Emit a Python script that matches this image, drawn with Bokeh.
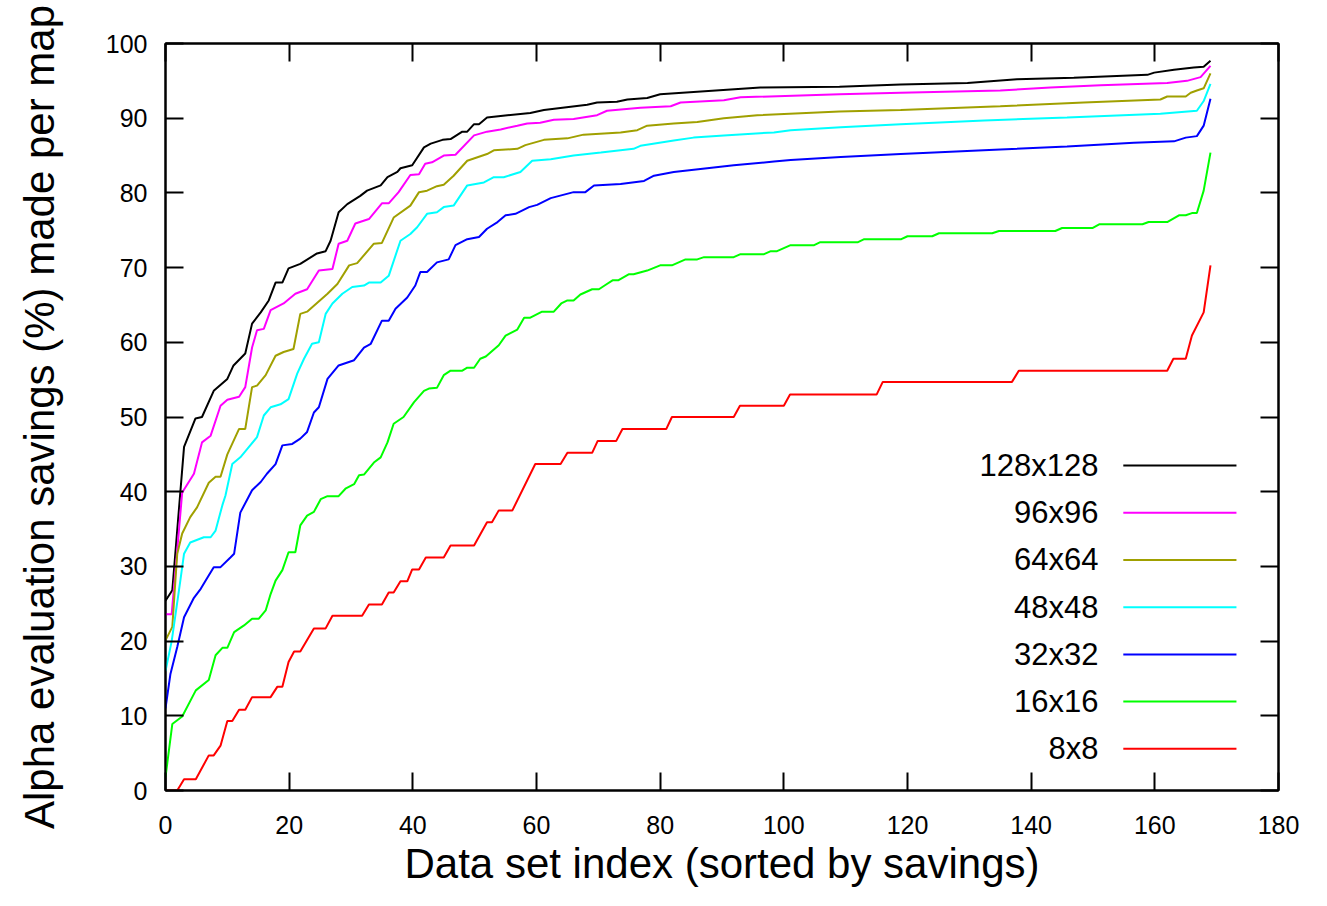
from bokeh.plotting import figure
from bokeh.models import Range1d, LinearAxis, FixedTicker
from bokeh.core.properties import value
from bokeh.embed import file_html
from bokeh.resources import INLINE

# ---------------- data ----------------
series_names = ["128x128", "96x96", "64x64", "48x48", "32x32", "16x16", "8x8"]
series_colors = ["#000000", "#ff00ff", "#a0a000", "#00ffff", "#0000ff", "#00ff00", "#ff0000"]

x_128 = [0, 1.1, 3.0, 4.85, 5.9, 7.8, 10, 11, 12.9, 14, 15.4, 16.7, 17.8, 18.9, 19.9, 21.8, 24.5, 25.9, 26.7, 28,
         29.4, 31.5, 32.6, 34.8, 35.9, 37.5, 38, 39.9, 41.8, 42.9, 44.8, 46.1, 48, 48.8, 49.9, 50.7, 52, 55.3, 59, 61.2,
         68.2, 69.8, 73, 74.7, 77.9, 80, 85.4, 90.8, 96.2, 109, 118.9, 129.7, 137.7, 146.9, 158.8, 159.9, 163.1, 166.3, 167.9, 169]
y_128 = [25.4, 26.8, 46, 49.8, 50, 53.5, 55.1, 56.9, 58.5, 62.5, 64, 65.6, 68, 68, 69.9, 70.5, 71.9, 72.2, 73.6, 77.4,
         78.5, 79.6, 80.3, 81, 82.1, 82.8, 83.3, 83.7, 86.1, 86.6, 87.1, 87.2, 88.2, 88.2, 89.2, 89.2, 90.1, 90.4, 90.7, 91.1,
         91.8, 92.1, 92.2, 92.5, 92.7, 93.2, 93.5, 93.8, 94.1, 94.2, 94.5, 94.7, 95.2, 95.4, 95.8, 96.1, 96.5, 96.8, 96.9, 97.7]

x_96 = [0, 1.0, 2.7, 4.6, 5.9, 7.3, 8.9, 10, 11.9, 12.9, 14, 14.8, 15.9, 17, 19.1, 21, 22.9, 24.8, 27, 28,
        29.4, 30.7, 32.9, 35, 36.1, 37.7, 39.6, 41, 42, 43.1, 45, 46.9, 49.9, 52, 54.2, 56.9, 58.5, 60.6, 62.8, 66,
        69.8, 71.4, 76.8, 81.7, 83.3, 90.3, 93, 109, 118.9, 135, 143.1, 151.2, 162, 165.2, 167.4, 169]
y_96 = [23.6, 23.6, 39.9, 42.4, 46.6, 47.5, 51.5, 52.3, 52.7, 54, 59.3, 61.6, 61.8, 64.3, 65.2, 66.5, 67.1, 69.6, 69.8, 73.2,
        73.6, 75.9, 76.5, 78.6, 78.6, 80.1, 82.4, 82.5, 83.9, 84.1, 85, 85.1, 87.7, 88.2, 88.5, 89, 89.3, 89.4, 89.8, 89.9,
        90.4, 91, 91.4, 91.6, 92.1, 92.4, 92.8, 93.2, 93.4, 93.7, 94.1, 94.4, 94.7, 95, 95.5, 97]

x_64 = [0, 1.1, 1.6, 1.9, 2.7, 4, 5.1, 7, 8.1, 8.9, 10, 11.9, 12.9, 14, 14.8, 16.2, 17.8, 19.1, 20.7, 21.8,
        22.9, 26.2, 27.8, 29.7, 31, 33.7, 35, 36.9, 39.6, 41, 42.3, 43.9, 45, 46.6, 48.8, 52, 53.1, 56.9, 58.2, 61.2,
        65, 67.6, 73.6, 76.3, 77.9, 82.2, 86, 90.3, 95.7, 109, 118.9, 135, 148.5, 160.9, 162, 165, 165.8, 166.8, 167.9, 169]
y_64 = [20.1, 21.9, 28.1, 31.7, 34.4, 36.6, 37.9, 41.2, 42, 42, 45, 48.4, 48.4, 54, 54.2, 55.6, 58.2, 58.7, 59.1, 63.8,
        64.1, 66.5, 67.8, 70.3, 70.6, 73.2, 73.3, 76.7, 78.3, 80.1, 80.3, 80.9, 81.1, 82.3, 84.3, 85.2, 85.7, 85.9, 86.4, 87.1,
        87.3, 87.8, 88.1, 88.4, 89, 89.3, 89.5, 90, 90.4, 90.9, 91.1, 91.6, 92.1, 92.5, 92.9, 92.9, 93.4, 93.7, 94, 96]

x_48 = [0, 1.0, 2.4, 3, 4, 6.2, 7.3, 8.1, 9.2, 9.7, 10.8, 12.1, 13.2, 14.8, 15.9, 17, 18.6, 19.9, 21.3, 22.4,
        23.7, 24.8, 25.9, 27, 28.6, 30.2, 32.1, 32.9, 34.8, 36.1, 38, 39.6, 40.7, 42.3, 43.9, 45, 46.6, 48.8, 51.5, 53.1,
        54.7, 57.4, 59.3, 62.3, 66, 70.4, 75.7, 76.8, 82.2, 85.4, 90.3, 98.4, 101.1, 109.2, 118.9, 132.4, 145.8, 160.9, 166.8, 167.9, 169]
y_48 = [16, 20, 28.1, 31.7, 33.2, 33.9, 33.9, 34.8, 38.2, 39.5, 43.7, 44.6, 45.7, 47.3, 50.2, 51.3, 51.7, 52.4, 55.8, 57.8,
        59.8, 60, 63.8, 65.2, 66.5, 67.4, 67.6, 68, 68, 68.9, 73.6, 74.5, 75.4, 77.2, 77.4, 78.1, 78.3, 81, 81.4, 82.1,
        82.1, 82.8, 84.3, 84.5, 85, 85.4, 85.9, 86.3, 87, 87.4, 87.7, 88.1, 88.4, 88.8, 89.2, 89.7, 90.1, 90.6, 91, 92.3, 94.6]

x_32 = [0, 0.8, 1.9, 3, 4.6, 5.7, 6.5, 7.8, 8.9, 10.5, 11.1, 12.1, 14, 15.4, 16.4, 17.8, 18.9, 20.5, 21.8, 22.9,
        24, 24.8, 26.2, 28, 30.5, 32.1, 33.2, 35, 36.1, 37.2, 39.1, 40.4, 41.2, 42.3, 43.9, 45.8, 46.9, 48.8, 50.7, 52,
        53.7, 55, 56.6, 58.8, 60.1, 62.3, 66, 67.9, 69.3, 73.6, 77.4, 79, 82.2, 87.6, 91.9, 98.4, 101.1, 109.2, 118.9, 124.3,
        135, 145.8, 156.6, 163.1, 165, 166.8, 167.9, 169]
y_32 = [11, 15.6, 19.2, 23.2, 25.8, 27, 28.1, 29.9, 29.9, 31.2, 31.7, 37.2, 40.2, 41.3, 42.4, 43.7, 46.2, 46.4, 47.1, 48,
        50.6, 51.3, 55.1, 56.9, 57.6, 59.3, 59.8, 62.9, 62.9, 64.5, 66, 67.6, 69.4, 69.4, 70.7, 71.1, 73, 73.8, 74.1, 75.2,
        76.1, 77, 77.2, 78.1, 78.4, 79.3, 80.1, 80.1, 81, 81.2, 81.6, 82.3, 82.8, 83.3, 83.7, 84.2, 84.4, 84.8, 85.2, 85.4,
        85.8, 86.2, 86.7, 86.9, 87.4, 87.6, 89, 92.6]

x_16 = [0, 1.1, 2.7, 4.9, 7, 8.1, 9.2, 10, 11.1, 12.7, 14, 15.1, 16.2, 17, 17.8, 18.9, 19.9, 21, 21.8, 22.9,
        24, 25.1, 26.2, 28, 29.1, 30.5, 31.3, 32.1, 33.7, 34.8, 35.9, 36.9, 38.5, 40.2, 41.8, 42.6, 43.9, 45, 46.1, 48,
        48.8, 49.9, 50.9, 51.8, 53.9, 55, 56.9, 58, 59, 60.9, 62.8, 64, 65, 66, 67.1, 69, 70.1, 71.2, 72.3, 73.2,
        74.9, 75.7, 77.9, 80, 81.9, 84.1, 86, 87.1, 91.9, 93, 96.8, 97.9, 98.9, 101.1, 104.9, 105.9, 112, 113, 119, 120,
        124, 125.1, 133.7, 134.8, 143.9, 145, 149.9, 151, 158, 159, 162, 163.9, 165, 166, 166.8, 167.9, 169]
y_16 = [1.8, 8.9, 9.9, 13.4, 14.8, 18.1, 19.1, 19.1, 21.2, 22.1, 23, 23, 24.1, 26.3, 28.1, 29.5, 31.9, 31.9, 35.5, 36.8,
        37.3, 39, 39.4, 39.4, 40.4, 41, 42.2, 42.3, 43.9, 44.6, 46.6, 49.1, 50, 52, 53.5, 53.8, 53.9, 55.6, 56.2, 56.2,
        56.6, 56.6, 57.8, 58.1, 59.6, 60.9, 61.7, 63.3, 63.3, 64.1, 64.1, 65.2, 65.6, 65.6, 66.4, 67.1, 67.1, 67.7, 68.3, 68.3,
        69.1, 69.1, 69.6, 70.3, 70.3, 71.1, 71.1, 71.4, 71.4, 71.8, 71.8, 72.2, 72.2, 73, 73, 73.4, 73.4, 73.8, 73.8, 74.2,
        74.2, 74.6, 74.6, 74.9, 74.9, 75.3, 75.3, 75.8, 75.8, 76.1, 76.1, 77, 77, 77.3, 77.3, 80.3, 85.4]

x_8 = [0, 1.9, 3, 4.9, 7, 7.8, 8.9, 10, 10.8, 11.9, 12.9, 14, 17, 18.1, 18.9, 19.9, 20.8, 21.8, 24, 25.9,
       27, 31.8, 32.9, 35, 36.1, 36.9, 38, 39.1, 39.9, 41, 42.1, 45, 46.1, 49.9, 52, 52.8, 53.9, 56.1, 59.8, 63.9,
       65, 69, 69.9, 72.9, 73.9, 81, 81.9, 91.9, 92.9, 100, 101, 115, 116, 136.9, 138, 162, 163, 165, 166, 167.9, 169]
y_8 = [0, 0, 1.5, 1.5, 4.7, 4.7, 6, 9.3, 9.3, 10.8, 10.8, 12.5, 12.5, 13.9, 13.9, 17.2, 18.6, 18.6, 21.7, 21.7,
       23.4, 23.4, 24.9, 24.9, 26.5, 26.5, 28, 28, 29.6, 29.6, 31.2, 31.2, 32.8, 32.8, 35.9, 35.9, 37.5, 37.5, 43.7, 43.7,
       45.2, 45.2, 46.8, 46.8, 48.4, 48.4, 50, 50, 51.5, 51.5, 53, 53, 54.7, 54.7, 56.2, 56.2, 57.8, 57.8, 60.9, 64, 70.3]

x_ticks = [0, 20, 40, 60, 80, 100, 120, 140, 160, 180]
y_ticks = [0, 10, 20, 30, 40, 50, 60, 70, 80, 90, 100]

x_title = "Data set index (sorted by savings)"
y_title = "Alpha evaluation savings (%) made per map"

series_x = [x_128, x_96, x_64, x_48, x_32, x_16, x_8]
series_y = [y_128, y_96, y_64, y_48, y_32, y_16, y_8]

# ---------------- figure ----------------
FONT = "Liberation Sans"

p = figure(width=1311, height=890, output_backend="svg", toolbar_location=None,
           x_range=Range1d(0, 180), y_range=Range1d(0, 100),
           min_border_left=165, min_border_right=33, min_border_top=43, min_border_bottom=100,
           x_axis_label=x_title, y_axis_label=y_title)
p.background_fill_color = "white"
p.border_fill_color = "white"
p.xgrid.visible = False
p.ygrid.visible = False
p.outline_line_color = "black"
p.outline_line_width = 2


def style_axis(ax, ticks, show_labels=True):
    ax.ticker = FixedTicker(ticks=ticks)
    ax.axis_line_color = "black"
    ax.axis_line_width = 2
    ax.major_tick_in = 18
    ax.major_tick_out = 0
    ax.major_tick_line_width = 2
    ax.major_tick_line_color = "black"
    ax.minor_tick_line_color = None
    ax.major_label_text_font = FONT
    ax.major_label_text_color = "black"
    ax.axis_label_text_font = FONT
    ax.axis_label_text_font_style = "normal"
    ax.axis_label_text_color = "black"
    if not show_labels:
        ax.major_label_text_color = None
        ax.major_label_text_font_size = "1px"
        ax.major_label_standoff = 0


xa = p.xaxis[0]
ya = p.yaxis[0]
style_axis(xa, x_ticks)
style_axis(ya, y_ticks)
xa.major_label_text_font_size = "25px"
ya.major_label_text_font_size = "25px"
xa.major_label_standoff = 25
ya.major_label_standoff = 18
xa.axis_label_text_font_size = "42px"
ya.axis_label_text_font_size = "42px"
xa.axis_label_standoff = 3
ya.axis_label_standoff = 40

top_ax = LinearAxis()
right_ax = LinearAxis()
style_axis(top_ax, x_ticks, show_labels=False)
style_axis(right_ax, y_ticks, show_labels=False)
p.add_layout(top_ax, "above")
p.add_layout(right_ax, "right")

for xs, ys, c in zip(series_x, series_y, series_colors):
    p.line(xs, ys, line_color=c, line_width=2)

# ---------------- legend (gnuplot style: label left, sample right) ----------------
leg_text_x = 150.9
leg_line_x0 = 154.9
leg_line_x1 = 173.2
leg_top_y = 43.5
leg_step = 6.32
leg_rows = [leg_top_y - i * leg_step for i in range(len(series_names))]

p.text(x=[leg_text_x] * len(series_names), y=leg_rows, text=series_names,
       text_align="right", text_baseline="middle", text_color="black",
       text_font=value(FONT), text_font_size="31px")
p.segment(x0=[leg_line_x0] * len(series_names), y0=leg_rows,
          x1=[leg_line_x1] * len(series_names), y1=leg_rows,
          line_color=series_colors, line_width=2)

open("out.html", "w").write(file_html(p, INLINE))
